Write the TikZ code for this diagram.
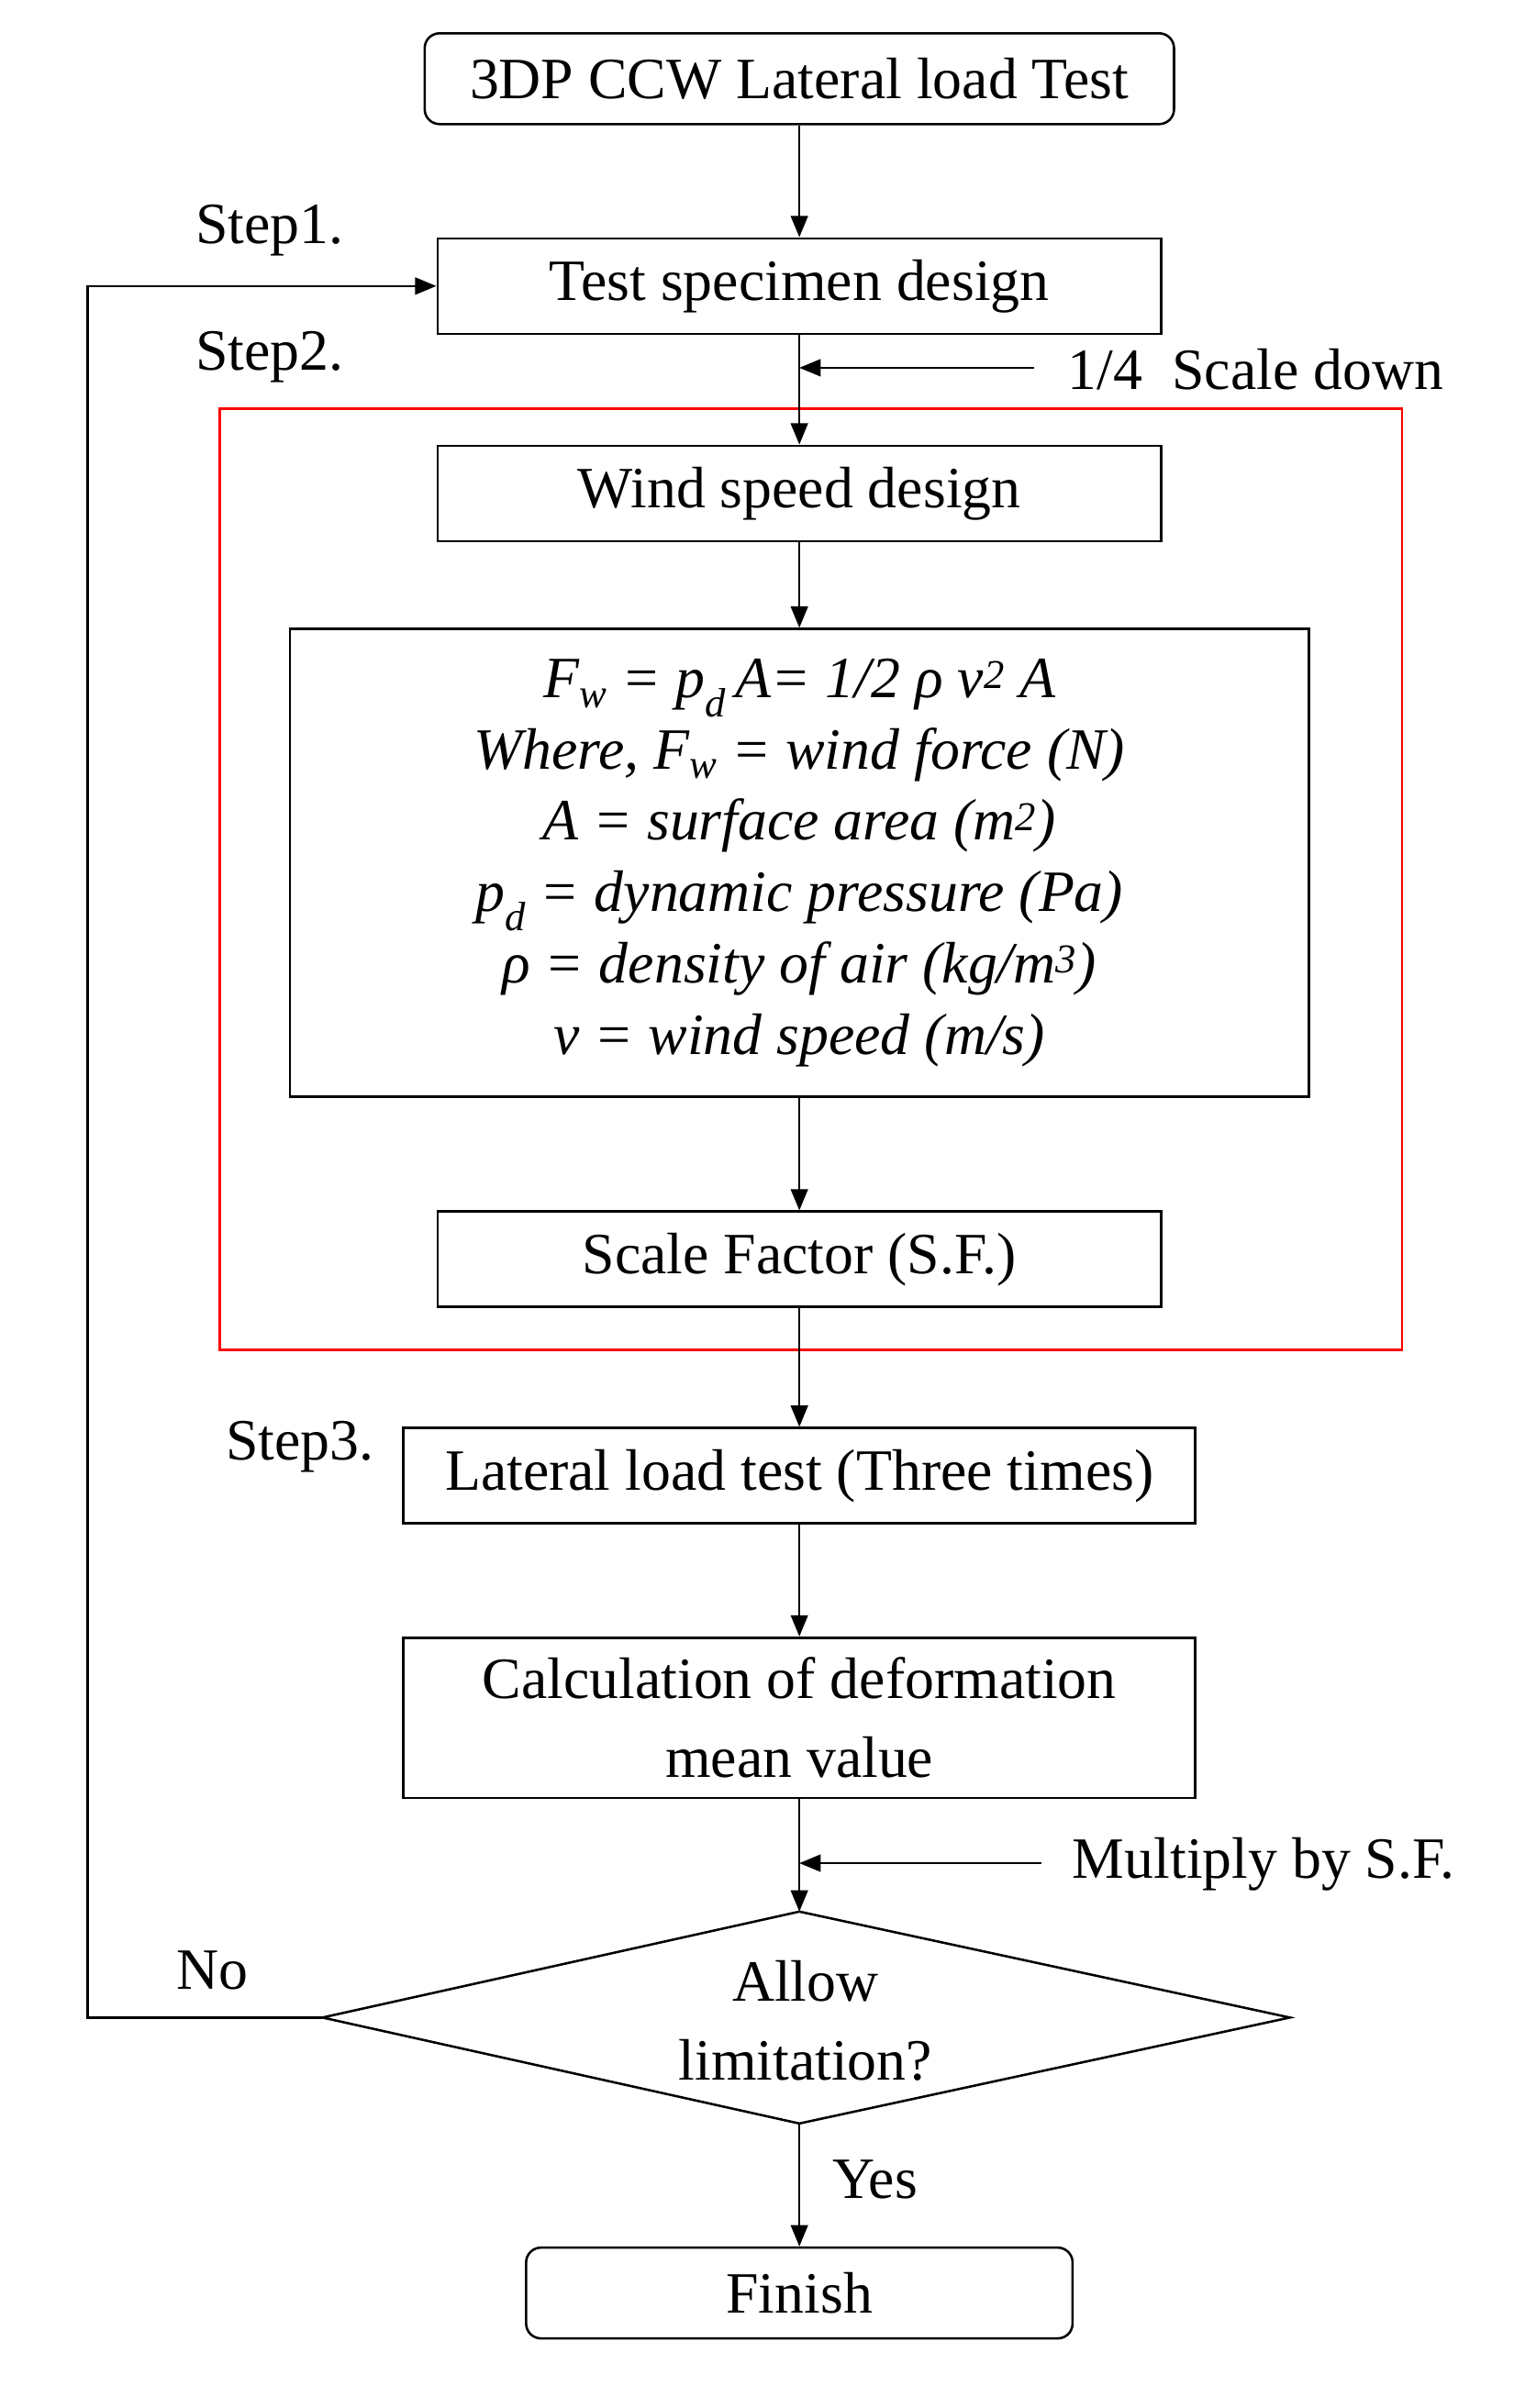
\documentclass[tikz,border=0pt]{standalone}
\usepackage{fontspec}
\setmainfont{Liberation Serif}
\usetikzlibrary{arrows.meta}
\begin{document}
\begin{tikzpicture}[x=0.05cm,y=-0.05cm,
  every node/.style={font=\fontsize{55}{74}\selectfont},
  box/.style={draw,line width=2.2pt,minimum height=3.15cm,inner sep=0pt},
  arr/.style={-{Triangle[length=20pt,width=16pt]},line width=2.2pt},
  ln/.style={line width=2.2pt}]
\useasboundingbox (0,0) rectangle (1000,1591);
\draw[red,line width=2.2pt] (145,270) rectangle (926,892);
\node[box,rounded corners=14pt,minimum width=24.75cm,minimum height=3cm] (top) at (528,52) {3DP CCW Lateral load Test};
\node[box,minimum width=23.9cm] (spec) at (528,189) {Test specimen design};
\node[box,minimum width=23.9cm] (wind) at (528,326) {Wind speed design};
\node[box,minimum width=33.65cm,minimum height=15.45cm,align=center,font=\fontsize{55}{67}\selectfont\itshape] (form) at (528,570) {F\textsubscript{w} = p\textsubscript{d}\,A= 1/2 ρ v\textsuperscript{2} A\\Where, F\textsubscript{w} = wind force (N)\\A = surface area (m\textsuperscript{2})\\p\textsubscript{d} = dynamic pressure (Pa)\\ρ = density of air (kg/m\textsuperscript{3})\\v = wind speed (m/s)};
\node[box,minimum width=23.9cm] (sf) at (528,832) {Scale Factor (S.F.)};
\node[box,minimum width=26.15cm] (lat) at (528,975) {Lateral load test (Three times)};
\node[box,minimum width=26.15cm,minimum height=5.3cm,align=center] (calc) at (528,1135) {Calculation of deformation\\mean value};
\coordinate (dl) at (213,1333);\coordinate (dr) at (852,1333);
\coordinate (dt) at (528,1263);\coordinate (db) at (528,1403);
\draw[ln] (dl)--(dt)--(dr)--(db)--cycle;
\node[align=center] (al) at (532,1335) {Allow\\limitation?};
\node[box,rounded corners=14pt,minimum width=18.05cm,minimum height=3cm] (fin) at (528,1515) {Finish};
\node (s1) at (178,152) {Step1.};
\node (s2) at (178,236) {Step2.};
\node (s3) at (198,956) {Step3.};
\node[anchor=west] (sd) at (703,244) {1/4\ \ Scale down};
\node[anchor=west] (mb) at (706,1232) {Multiply by S.F.};
\node (no) at (140,1302) {No};
\node (yes) at (578,1440) {Yes};
\draw[arr] (top)--(spec);
\draw[arr] (spec)--(wind);
\draw[arr] (wind)--(form);
\draw[arr] (form)--(sf);
\draw[arr] (sf)--(lat);
\draw[arr] (lat)--(calc);
\draw[arr] (calc.south)--(dt);
\draw[arr] (db)--(fin);
\coordinate (sa) at (528,243); \coordinate (sb) at (683,243);
\draw[arr] (sb)--(sa);
\coordinate (ma) at (528,1231); \coordinate (mb2) at (688,1231);
\draw[arr] (mb2)--(ma);
\coordinate (c1) at (58,1333); \coordinate (c2) at (58,189);
\draw[arr] (dl)--(c1)--(c2)--(spec.west);
\end{tikzpicture}
\end{document}
